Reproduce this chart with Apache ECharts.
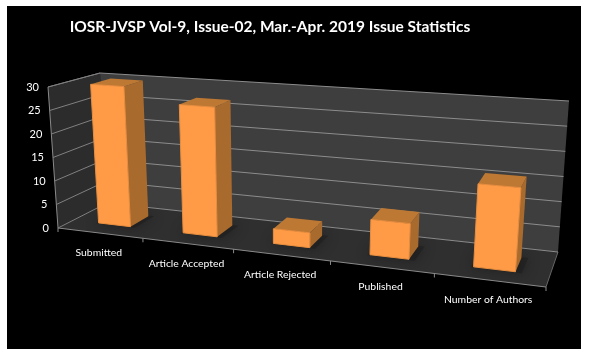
<!DOCTYPE html>
<html>
<head>
<meta charset="utf-8">
<title>Issue Statistics</title>
<script src="https://cdn.jsdelivr.net/npm/echarts@6/dist/echarts.min.js"></script>
<style>
html, body { margin: 0; padding: 0; background: #fff; }
#main { width: 589px; height: 357px; }
</style>
</head>
<body>
<div id="main"></div>
<script>
var titleText = 'IOSR-JVSP Vol-9, Issue-02, Mar.-Apr. 2019 Issue Statistics';
var categories = ['Submitted', 'Article Accepted', 'Article Rejected', 'Published', 'Number of Authors'];
var issueValues = [30, 27, 3, 7, 16];
var yTicks = [0, 5, 10, 15, 20, 25, 30];

var labelFont = 'Lato, "Noto Sans", sans-serif';

// the box the old 3D chart sits in: pixel corners, f = front, b = back
var box = {
    fbl: [58, 228], fbr: [546, 287], ftl: [48, 87], ftr: [558, 124],
    bbl: [107, 203], bbr: [558, 252], btl: [100, 73], btr: [569, 101]
};
var sWarp = 0.843;      // bands get wider to the right
var barDepth = [0.32, 0.72];
var barWidth = 0.385;   // share of a category band

function mix(a, b, t) {
    return [a[0] + (b[0] - a[0]) * t, a[1] + (b[1] - a[1]) * t];
}

// s: along categories, h: along values, d: into the chart, all 0..1
function project(s, h, d) {
    var u = s * sWarp / (1 + (sWarp - 1) * s);
    var front = mix(mix(box.fbl, box.fbr, u), mix(box.ftl, box.ftr, u), h);
    var back = mix(mix(box.bbl, box.bbr, u), mix(box.btl, box.btr, u), h);
    return mix(front, back, d);
}

// axis scale -> 0..1 inside the grid
function toUnit(params, api, cat, val) {
    var p = api.coord([cat, val]);
    var g = params.coordSys;
    return [(p[0] - g.x) / g.width, (g.y + g.height - p[1]) / g.height];
}

function poly(points, fill, extra) {
    return {
        type: 'polygon',
        shape: { points: points },
        style: Object.assign({ fill: fill }, extra || {})
    };
}

function seg(a, b, color) {
    return {
        type: 'line',
        shape: { x1: a[0], y1: a[1], x2: b[0], y2: b[1] },
        style: { stroke: color, lineWidth: 1 }
    };
}

function renderWalls() {
    return {
        type: 'group',
        children: [
            poly([project(0, 0, 0), project(0, 1, 0), project(0, 1, 1), project(0, 0, 1)], '#2c2c2c'),
            poly([project(0, 0, 1), project(0, 1, 1), project(1, 1, 1), project(1, 0, 1)], '#3e3e3e'),
            poly([project(0, 0, 0), project(0, 0, 1), project(1, 0, 1), project(1, 0, 0)], '#2f2f2f'),
            seg(project(0, 0, 0), project(0, 1, 0), '#8a8a8a'),
            seg(project(0, 0, 0), project(1, 0, 0), '#8a8a8a'),
            seg(project(1, 0, 0), project(1, 0, 1), '#666666'),
            seg(project(0, 1, 0), project(0, 1, 1), '#777777')
        ]
    };
}

function renderGridLine(params, api) {
    var h = toUnit(params, api, 0, api.value(0))[1];
    return {
        type: 'group',
        children: [
            seg(project(0, h, 0), project(0, h, 1), '#808080'),
            seg(project(0, h, 1), project(1, h, 1), '#8c8c8c')
        ]
    };
}

function renderYLabel(params, api) {
    var v = api.value(0);
    var p = project(0, toUnit(params, api, 0, v)[1], 0);
    return {
        type: 'text',
        style: {
            x: p[0] - 9, y: p[1], text: String(v),
            fill: '#ffffff', font: '11px ' + labelFont,
            align: 'right', verticalAlign: 'middle'
        }
    };
}

function renderCategoryMark(params, api) {
    var i = api.value(0);
    var band = api.size([1, 0])[0] / params.coordSys.width;
    var s = toUnit(params, api, i, 0)[0];
    var mid = project(s, 0, 0);
    var tickAt = project(s + band / 2, 0, 0);
    var startAt = project(0, 0, 0);
    var children = [
        seg(tickAt, [tickAt[0], tickAt[1] + 4], '#8a8a8a'),
        {
            type: 'text',
            style: {
                x: mid[0] - 1, y: mid[1] + 19.5, text: categories[i],
                fill: '#ffffff', font: '10.4px ' + labelFont,
                align: 'center', verticalAlign: 'middle'
            }
        }
    ];
    if (i === 0) {
        children.push(seg(startAt, [startAt[0], startAt[1] + 4], '#8a8a8a'));
    }
    return { type: 'group', children: children };
}

function renderBar(params, api) {
    var i = api.value(0);
    var unit = toUnit(params, api, i, api.value(1));
    var band = api.size([1, 0])[0] / params.coordSys.width;
    var s0 = unit[0] - band * barWidth / 2;
    var s1 = unit[0] + band * barWidth / 2;
    var h = unit[1];
    var d0 = barDepth[0];
    var d1 = barDepth[1];
    return {
        type: 'group',
        children: [
            // soft dark patch on the floor
            poly([project(s0 - 0.004, 0, d0 - 0.02), project(s1 + 0.012, 0, d0 - 0.02),
                  project(s1 + 0.012, 0, d1 + 0.02), project(s0 - 0.004, 0, d1 + 0.02)],
                 'rgba(30,30,30,0.55)', { shadowBlur: 12, shadowColor: 'rgba(22,22,22,1)' }),
            poly([project(s1, 0, d0), project(s1, h, d0), project(s1, h, d1), project(s1, 0, d1)], '#a96a2e'),
            poly([project(s0, h, d0), project(s0, h, d1), project(s1, h, d1), project(s1, h, d0)], '#bd7833'),
            poly([project(s0, 0, d0), project(s0, h, d0), project(s1, h, d0), project(s1, 0, d0)], '#ff9b46',
                 { stroke: '#e88e40', lineWidth: 1 })
        ]
    };
}

var myChart = echarts.init(document.getElementById('main'));

var option = {
    backgroundColor: '#ffffff',
    animation: false,
    title: {
        text: titleText,
        left: 265,
        top: 22,
        textAlign: 'center',
        textVerticalAlign: 'middle',
        textStyle: { color: '#ffffff', fontFamily: labelFont, fontSize: 15.5, fontWeight: 'bold' }
    },
    graphic: [{
        type: 'rect',
        z: -1,
        shape: { x: 7, y: 6, width: 574, height: 343 },
        style: { fill: '#000000' }
    }],
    grid: { left: 58, right: 43, top: 87, bottom: 129 },
    xAxis: { type: 'category', data: categories, show: false },
    yAxis: { type: 'value', min: 0, max: 30, interval: 5, show: false },
    series: [
        { type: 'custom', clip: false, z: 2, renderItem: renderWalls, data: [[0, 0]] },
        { type: 'custom', clip: false, z: 3, renderItem: renderGridLine, encode: { x: -1, y: 0 },
          data: yTicks.map(function (v) { return [v]; }) },
        { type: 'custom', clip: false, z: 4, renderItem: renderCategoryMark, encode: { x: 0, y: -1 },
          data: categories.map(function (c, i) { return [i]; }) },
        { type: 'custom', clip: false, z: 5, renderItem: renderBar, encode: { x: 0, y: 1 },
          data: issueValues.map(function (v, i) { return [i, v]; }) },
        { type: 'custom', clip: false, z: 6, renderItem: renderYLabel, encode: { x: -1, y: 0 },
          data: yTicks.map(function (v) { return [v]; }) }
    ]
};

myChart.setOption(option);
</script>
</body>
</html>
